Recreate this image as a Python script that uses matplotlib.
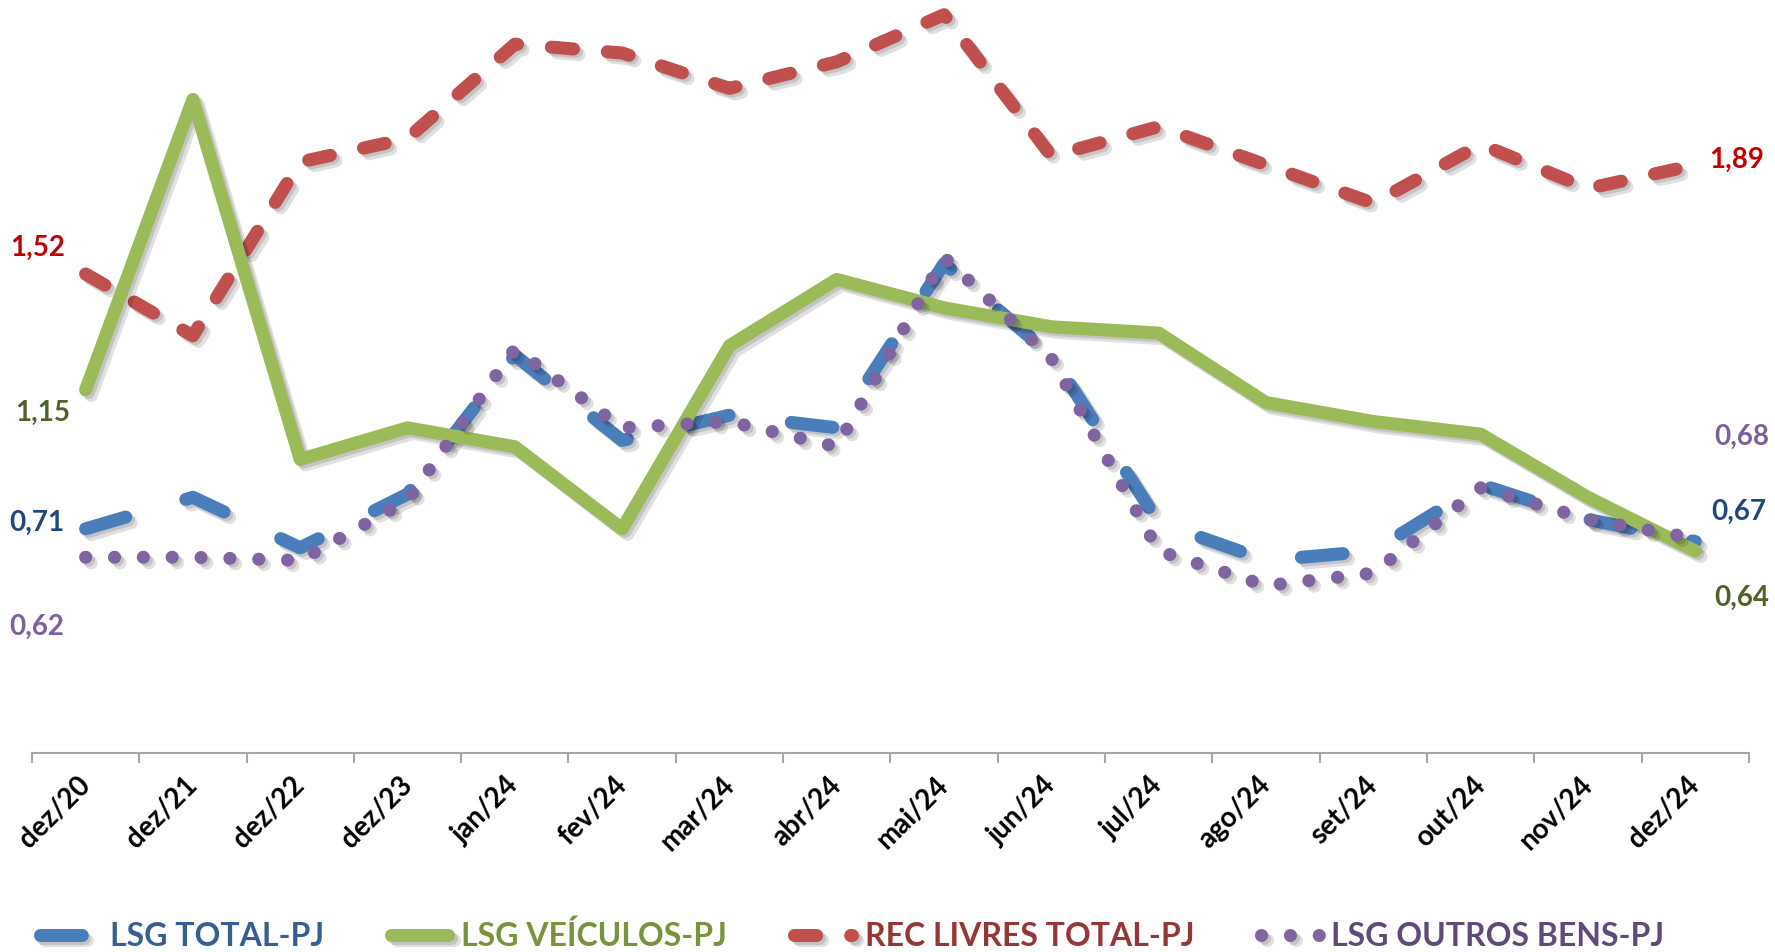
import matplotlib
matplotlib.use('Agg')
import numpy as np
import matplotlib.pyplot as plt
import matplotlib.patheffects as pe
from matplotlib.lines import Line2D

plt.rcParams['font.family'] = ['Lato', 'DejaVu Sans']
plt.rcParams['font.weight'] = 'bold'

# dados
meses = ['dez/20', 'dez/21', 'dez/22', 'dez/23', 'jan/24', 'fev/24', 'mar/24', 'abr/24',
         'mai/24', 'jun/24', 'jul/24', 'ago/24', 'set/24', 'out/24', 'nov/24', 'dez/24']
lsg_total = [0.71, 0.81, 0.65, 0.82, 1.26, 0.99, 1.07, 1.03,
             1.55, 1.26, 0.73, 0.61, 0.64, 0.85, 0.74, 0.67]
lsg_veiculos = [1.15, 2.07, 0.93, 1.03, 0.97, 0.71, 1.29, 1.50,
                1.41, 1.35, 1.33, 1.11, 1.05, 1.01, 0.81, 0.64]
rec_livres = [1.52, 1.31, 1.90, 1.98, 2.30, 2.27, 2.15, 2.24,
              2.40, 1.92, 2.02, 1.89, 1.76, 1.96, 1.81, 1.89]
lsg_outros = [0.62, 0.62, 0.61, 0.80, 1.28, 1.03, 1.05, 0.97,
              1.57, 1.25, 0.64, 0.53, 0.57, 0.84, 0.74, 0.68]

nomes = ['LSG TOTAL-PJ', 'LSG VEÍCULOS-PJ', 'REC LIVRES TOTAL-PJ', 'LSG OUTROS BENS-PJ']
cor_linha = ['#4A7EBB', '#9BBB59', '#C0504D', '#8064A2']
cor_legenda = ['#376092', '#77933C', '#953735', '#604A7B']
cor_rotulo = ['#1F497D', '#4F6228', '#C00000', '#7B5F9E']

sombra = [pe.SimpleLineShadow(offset=(2, -2), shadow_color='k', alpha=0.12),
          pe.SimpleLineShadow(offset=(4, -4), shadow_color='k', alpha=0.12),
          pe.Normal()]

estilos = [dict(dashes=(3.2, 4.8), dash_capstyle='round'),
           dict(solid_capstyle='round', solid_joinstyle='round'),
           dict(dashes=(1.7, 2.6), dash_capstyle='round'),
           dict(dashes=(0.01, 2.2), dash_capstyle='round')]
lw = 9.4

fig = plt.figure(figsize=(17.75, 9.52), dpi=100)
ax = fig.add_axes([0.018, 0.209, 0.9673, 0.796])
ax2 = ax.twinx()
x = np.arange(len(meses))

# REC LIVRES no eixo secundário (atrás)
ax.plot(x, rec_livres, color=cor_linha[2], lw=lw, path_effects=sombra, **estilos[2])
ax2.plot(x, lsg_total, color=cor_linha[0], lw=lw, path_effects=sombra, **estilos[0])
ax2.plot(x, lsg_veiculos, color=cor_linha[1], lw=lw, path_effects=sombra, **estilos[1])
ax2.plot(x, lsg_outros, color=cor_linha[3], lw=lw, path_effects=sombra, **estilos[3])

ax.set_xlim(-0.5, len(meses) - 0.5)
ax.set_ylim(-0.106, 2.466)
ax2.set_ylim(0, 2.4)

for a in (ax, ax2):
    a.set_yticks([])
    for s in ['left', 'right', 'top']:
        a.spines[s].set_visible(False)
ax2.spines['bottom'].set_visible(False)
ax.spines['bottom'].set_color('#A6A6A6')
ax.spines['bottom'].set_linewidth(1.5)

ax.set_xticks(x)
ax.set_xticklabels(meses, rotation=45, ha='right', va='center', rotation_mode='anchor',
                   fontsize=20, fontweight='bold', color='black')
ax.tick_params(axis='x', which='major', length=0, pad=20)
ax.set_xticks(np.arange(-0.5, len(meses), 1), minor=True)
ax.tick_params(axis='x', which='minor', length=7, width=1.5, color='#A6A6A6')

# rótulos no início e no fim de cada série
def rotulo(a, i, v, dx, dy, cor):
    a.annotate(f'{v:.2f}'.replace('.', ','), xy=(i, v), xytext=(dx, dy),
               textcoords='offset pixels', ha='center', va='center',
               fontsize=20, fontweight='bold', color=cor, annotation_clip=False)

n = len(meses) - 1
rotulo(ax, 0, rec_livres[0], -48, 26, cor_rotulo[2])
rotulo(ax, n, rec_livres[n], 41, 5, cor_rotulo[2])
rotulo(ax2, 0, lsg_veiculos[0], -43, -23, cor_rotulo[1])
rotulo(ax2, n, lsg_veiculos[n], 46, -47, cor_rotulo[1])
rotulo(ax2, 0, lsg_total[0], -49, 6, cor_rotulo[0])
rotulo(ax2, n, lsg_total[n], 43, 30, cor_rotulo[0])
rotulo(ax2, 0, lsg_outros[0], -49, -70, cor_rotulo[3])
rotulo(ax2, n, lsg_outros[n], 46, 101, cor_rotulo[3])

handles = [Line2D([], [], color=c, lw=lw, path_effects=sombra, **e)
           for c, e in zip(cor_linha, estilos)]
leg = fig.legend(handles, nomes, loc='center', bbox_to_anchor=(0.48, 0.017), ncol=4,
                 frameon=False, handlelength=1.8, handletextpad=0.4, columnspacing=2.1,
                 prop=dict(size=23, weight='bold'))
for t, c in zip(leg.get_texts(), cor_legenda):
    t.set_color(c)

fig.savefig('out.png', dpi=100)
